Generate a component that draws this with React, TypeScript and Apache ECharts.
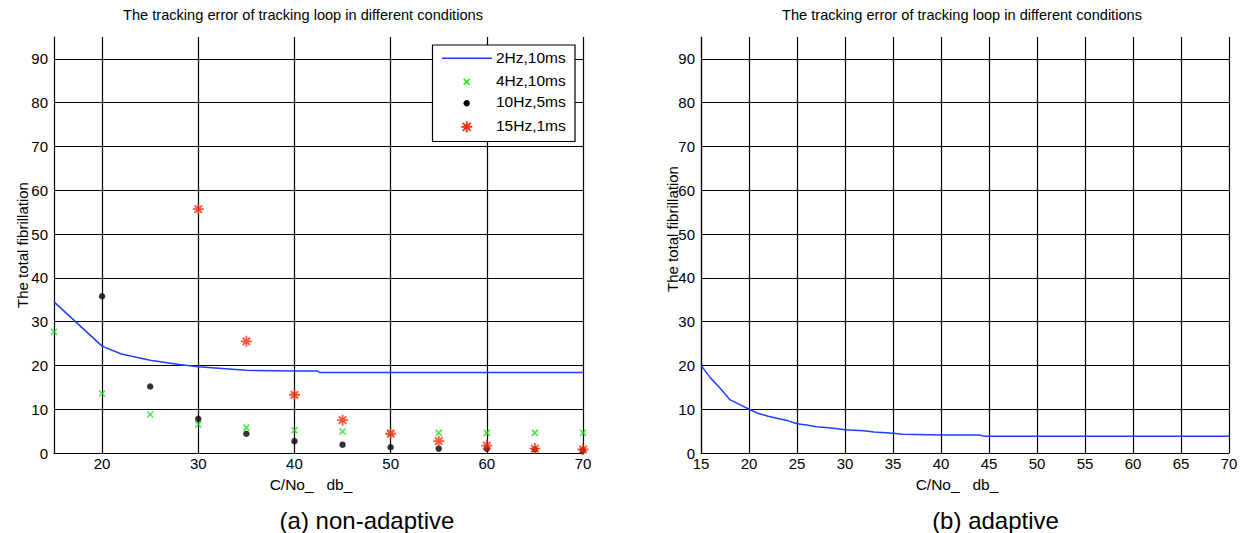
import React, { useEffect, useRef } from 'react';
import * as echarts from 'echarts';

const FONT = '"Liberation Sans", Arial, Helvetica, sans-serif';
const BLUE = '#1f3fff';
const GREEN = '#14e614';
const BLACK = '#000000';
const RED = '#ff2a0a';

// ---- (a) non-adaptive ----
const line2HzX = [15, 20, 22, 25, 28, 30, 35, 40, 42.4, 42.6, 70];
const line2HzY = [34.5, 24.4, 22.6, 21.2, 20.2, 19.7, 18.9, 18.7, 18.7, 18.4, 18.4];

const green4HzX = [15, 20, 25, 30, 35, 40, 45, 50, 55, 60, 65, 70];
const green4HzY = [27.7, 13.6, 8.8, 6.5, 5.8, 5.2, 4.9, 4.6, 4.6, 4.6, 4.6, 4.6];

const black10HzX = [20, 25, 30, 35, 40, 45, 50, 55, 60, 65, 70];
const black10HzY = [35.8, 15.2, 7.8, 4.4, 2.7, 1.9, 1.3, 1.0, 1.0, 0.8, 0.6];

const red15HzX = [30, 35, 40, 45, 50, 55, 60, 65, 70];
const red15HzY = [55.7, 25.5, 13.3, 7.5, 4.4, 2.7, 1.7, 1.0, 0.8];

// ---- (b) adaptive ----
const adaptX = [15, 16, 17, 18, 19, 20, 21, 22, 23, 24, 25, 26, 27, 28, 29, 30, 32, 33, 35, 36, 40, 44, 44.5, 70];
const adaptY = [20, 17.1, 14.8, 12.2, 11.1, 10, 9, 8.4, 7.9, 7.4, 6.7, 6.4, 6.0, 5.8, 5.6, 5.3, 5.1, 4.8, 4.5, 4.3, 4.1, 4.1, 3.8, 3.8];

const legendNames = ['2Hz,10ms', '4Hz,10ms', '10Hz,5ms', '15Hz,1ms'];
const titleText = 'The tracking error of tracking loop in different conditions';
const yName = 'The total fibrillation';
const xName = 'C/No_\u00a0\u00a0\u00a0db_';
const captions = ['(a) non-adaptive', '(b) adaptive'];

const zip = (xs: number[], ys: number[]) => xs.map((x, i) => [x, ys[i]]);

const X_PATH = 'path://M0 0L10 10M10 0L0 10';
const STAR_PATH = 'path://M5 0L5 10M0 5L10 5M1.6 1.6L8.4 8.4M8.4 1.6L1.6 8.4';

const GRID_W = 1.2;
const TICK_FS = 15;

function yAxis(gridIndex: number) {
  return {
    type: 'value',
    gridIndex,
    min: 0,
    max: 95,
    interval: 10,
    axisLine: { show: true, onZero: false, lineStyle: { color: '#000', width: GRID_W } },
    axisTick: { show: false },
    axisLabel: {
      color: '#000',
      fontSize: TICK_FS,
      fontFamily: FONT,
      margin: 6,
      padding: [0, 0, 6, 0],
      formatter: (v: number) => (v % 10 === 0 ? String(v) : ''),
    },
    splitLine: {
      show: true,
      lineStyle: { color: [...Array(10).fill('#000'), 'rgba(0,0,0,0)'], width: GRID_W },
    },
  };
}

function xAxis(gridIndex: number, everyFive: boolean) {
  return {
    type: 'value',
    gridIndex,
    min: 15,
    max: 70,
    interval: 5,
    axisLine: { show: true, onZero: false, lineStyle: { color: '#000', width: GRID_W } },
    axisTick: { show: false },
    axisLabel: {
      color: '#000',
      fontSize: TICK_FS,
      fontFamily: FONT,
      margin: 3,
      showMinLabel: true,
      showMaxLabel: true,
      formatter: (v: number) => (everyFive || v % 10 === 0 ? String(v) : ''),
    },
    splitLine: {
      show: true,
      lineStyle: { color: everyFive ? '#000' : ['rgba(0,0,0,0)', '#000'], width: GRID_W },
    },
  };
}

function text(x: number, y: number, t: string, size: number, extra: any = {}) {
  return {
    type: 'text',
    x,
    y,
    z: 100,
    ...extra,
    style: {
      text: t,
      fontSize: size,
      fontFamily: FONT,
      fill: '#000',
      align: 'center',
      verticalAlign: 'middle',
    },
  };
}

function legendGraphics() {
  const cx = 466.7;
  const els: any[] = [];
  els.push({
    type: 'rect',
    z: 90,
    shape: { x: 432.5, y: 45, width: 142.5, height: 96.5 },
    style: { fill: '#fff', stroke: '#000', lineWidth: 1.2 },
  });
  els.push({
    type: 'line',
    z: 100,
    shape: { x1: 442, y1: 58.3, x2: 492, y2: 58.3 },
    style: { stroke: BLUE, lineWidth: 1.5 },
  });
  // x marker
  els.push({ type: 'line', z: 100, shape: { x1: cx - 3, y1: 78.7, x2: cx + 3, y2: 84.7 }, style: { stroke: GREEN, lineWidth: 1.5 } });
  els.push({ type: 'line', z: 100, shape: { x1: cx + 3, y1: 78.7, x2: cx - 3, y2: 84.7 }, style: { stroke: GREEN, lineWidth: 1.5 } });
  // dot
  els.push({ type: 'circle', z: 100, shape: { cx, cy: 103.3, r: 3.2 }, style: { fill: BLACK } });
  // asterisk
  const ay = 126.8;
  const r = 5.5;
  const d = 4;
  const st = { stroke: RED, lineWidth: 1.8 };
  els.push({ type: 'line', z: 100, shape: { x1: cx, y1: ay - r, x2: cx, y2: ay + r }, style: st });
  els.push({ type: 'line', z: 100, shape: { x1: cx - r, y1: ay, x2: cx + r, y2: ay }, style: st });
  els.push({ type: 'line', z: 100, shape: { x1: cx - d, y1: ay - d, x2: cx + d, y2: ay + d }, style: st });
  els.push({ type: 'line', z: 100, shape: { x1: cx + d, y1: ay - d, x2: cx - d, y2: ay + d }, style: st });
  const rows = [57, 80.7, 101.7, 125];
  legendNames.forEach((n, i) => {
    els.push({
      type: 'text',
      x: 496,
      y: rows[i],
      z: 100,
      style: { text: n, fontSize: 15.5, fontFamily: FONT, fill: '#000', align: 'left', verticalAlign: 'middle' },
    });
  });
  return els;
}

export default function App() {
  const ref = useRef<HTMLDivElement>(null);

  useEffect(() => {
    if (!ref.current) return;
    const chart = echarts.init(ref.current, undefined, { renderer: 'svg' });
    const option: any = {
      animation: false,
      backgroundColor: '#fff',
      grid: [
        { left: 54, top: 37, width: 529, height: 416 },
        { left: 701, top: 37, width: 528, height: 416 },
      ],
      xAxis: [xAxis(0, false), xAxis(1, true)],
      yAxis: [yAxis(0), yAxis(1)],
      series: [
        {
          name: legendNames[0],
          type: 'line',
          xAxisIndex: 0,
          yAxisIndex: 0,
          data: zip(line2HzX, line2HzY),
          showSymbol: false,
          lineStyle: { color: BLUE, width: 1.5 },
          z: 5,
        },
        {
          name: legendNames[1],
          type: 'scatter',
          xAxisIndex: 0,
          yAxisIndex: 0,
          data: zip(green4HzX, green4HzY),
          symbol: X_PATH,
          symbolSize: 6,
          itemStyle: { color: 'rgba(0,0,0,0)', borderColor: GREEN, borderWidth: 1.5 },
          z: 6,
        },
        {
          name: legendNames[2],
          type: 'scatter',
          xAxisIndex: 0,
          yAxisIndex: 0,
          data: zip(black10HzX, black10HzY),
          symbol: 'circle',
          symbolSize: 6.5,
          itemStyle: { color: BLACK },
          z: 7,
        },
        {
          name: legendNames[3],
          type: 'scatter',
          xAxisIndex: 0,
          yAxisIndex: 0,
          data: zip(red15HzX, red15HzY),
          symbol: STAR_PATH,
          symbolSize: 11,
          itemStyle: { color: 'rgba(0,0,0,0)', borderColor: RED, borderWidth: 1.8 },
          z: 8,
        },
        {
          name: 'adaptive',
          type: 'line',
          xAxisIndex: 1,
          yAxisIndex: 1,
          data: zip(adaptX, adaptY),
          showSymbol: false,
          lineStyle: { color: BLUE, width: 1.5 },
          z: 5,
        },
      ],
      graphic: [
        text(303, 15, titleText, 14.6),
        text(962, 15, titleText, 14.6),
        text(22, 245, yName, 15),
        text(672, 229, yName, 15),
        text(311, 484, xName, 15.5),
        text(957, 484, xName, 15.5),
        text(367, 520, captions[0], 24),
        text(995.5, 520, captions[1], 24),
        ...legendGraphics(),
      ].map((g: any, i: number) => (i === 2 || i === 3 ? { ...g, rotation: Math.PI / 2 } : g)),
    };
    chart.setOption(option);
    return () => chart.dispose();
  }, []);

  return (
    <div
      ref={ref}
      style={{ position: 'fixed', left: 0, top: 0, width: 1245, height: 533, background: '#fff' }}
    />
  );
}
